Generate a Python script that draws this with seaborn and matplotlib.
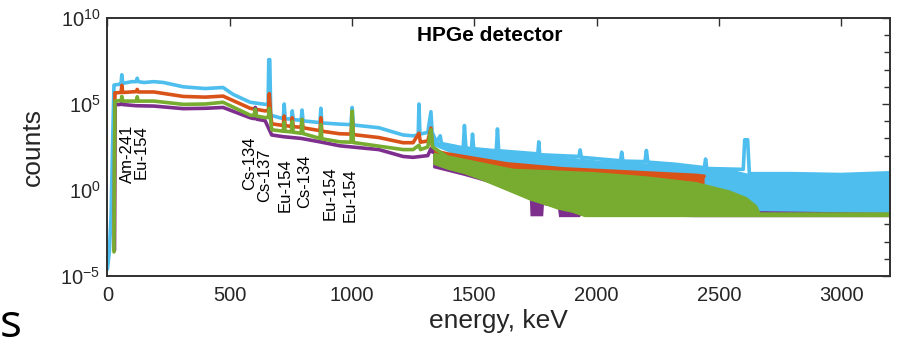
import numpy as np
import seaborn as sns
import matplotlib
matplotlib.use('Agg')
import matplotlib.pyplot as plt
from matplotlib.ticker import FixedLocator, FixedFormatter, NullFormatter

# values: energy in keV, counts as log10 (decades on the log axis)
blue_e = [0, 8, 15, 21, 27, 50, 56, 59, 63, 100, 118, 122, 126, 150, 190, 230, 310, 400, 473,
          514, 584, 645, 657, 660, 664, 668, 700, 719, 723, 727, 752, 756, 760, 792, 796, 800,
          869, 873, 877, 950, 996, 1001, 1006, 1110, 1209, 1250, 1271, 1274, 1278, 1310, 1323,
          1328, 1345, 1361, 1366, 1455, 1460, 1466, 1489, 1493, 1498, 1590, 1595, 1600, 1760,
          1764, 1768, 1928, 1933, 1938, 2098, 2103, 2108, 2198, 2204, 2210, 2320, 2441, 2446,
          2451, 2600, 2606, 2618, 2625, 2800, 3000, 3200]
blue_log = [-4.6, -3.6, -1.5, 2.5, 6.1, 6.15, 6.2, 6.7, 6.2, 6.3, 6.3, 6.5, 6.3, 6.25, 6.3, 6.25,
            6.0, 5.9, 5.96, 5.56, 5.1, 4.98, 5.0, 7.58, 7.58, 4.35, 4.22, 4.15, 5.0, 4.15, 4.12,
            4.6, 4.1, 4.05, 4.65, 4.02, 3.92, 4.75, 3.9, 3.83, 3.8, 4.8, 3.78, 3.62, 3.2, 3.15,
            3.2, 5.0, 3.25, 3.35, 4.55, 3.36, 2.8, 3.15, 2.7, 2.45, 3.75, 2.45, 2.4, 3.25, 2.4,
            2.28, 3.55, 2.28, 2.1, 2.8, 2.05, 1.95, 2.33, 1.9, 1.7, 2.2, 1.68, 1.65, 2.3, 1.62,
            1.5, 1.3, 1.8, 1.25, 1.2, 2.92, 2.92, 0.95, 0.95, 0.9, 1.0]
blue_band_e = [1330, 1500, 1800, 2000, 2300, 2550, 2625, 2800, 3000, 3200]
blue_band_hi = [2.9, 2.4, 2.05, 1.75, 1.5, 1.22, 0.95, 0.95, 0.9, 1.0]
blue_band_lo = [2.6, 1.6, 0.5, -0.2, -0.9, -1.25, -1.28, -1.3, -1.3, -1.3]

orange_e = [28, 31, 56, 59, 63, 118, 122, 126, 190, 310, 400, 473, 584, 645, 658, 662, 667, 672,
            719, 723, 727, 752, 756, 760, 792, 796, 800, 869, 873, 877, 950, 996, 1001, 1006,
            1110, 1209, 1250, 1274, 1280, 1310, 1323, 1330, 1390, 1634, 1866, 2110, 2407, 2440]
orange_log = [-3.5, 5.65, 5.67, 6.08, 5.67, 5.72, 5.85, 5.7, 5.7, 5.44, 5.4, 5.46, 4.75, 4.6,
              4.62, 5.6, 4.5, 3.85, 3.75, 4.3, 3.74, 3.7, 4.2, 3.68, 3.65, 4.1, 3.62, 3.45, 4.2,
              3.42, 3.27, 3.25, 4.2, 3.22, 3.05, 2.75, 2.75, 3.3, 2.78, 2.85, 3.6, 2.3, 2.1,
              1.52, 1.23, 1.06, 0.85, 0.8]
orange_band_e = [1330, 1390, 1634, 1866, 2110, 2407, 2440]
orange_band_hi = [2.3, 2.1, 1.52, 1.23, 1.06, 0.85, 0.8]
orange_band_lo = [1.85, 1.65, 1.07, 0.78, 0.61, 0.4, 0.35]

purple_e = [29, 31, 56, 59, 63, 118, 190, 310, 400, 473, 584, 600, 605, 610, 645, 672, 719, 792,
            869, 950, 1110, 1209, 1250, 1310, 1323, 1330]
purple_log = [-3.5, 4.95, 4.98, 5.1, 4.97, 4.9, 4.88, 4.73, 4.75, 4.8, 4.2, 4.15, 4.8, 4.12,
              4.03, 3.2, 3.1, 3.0, 2.8, 2.57, 2.35, 1.95, 1.9, 2.0, 2.4, 2.2]
purple_band_e = [1330, 1457, 1580, 1700, 1725, 1728, 1780, 1783, 1840, 1845, 1930, 1935, 2400,
                 2660, 3200]
purple_band_hi = [2.1, 1.6, 1.3, 1.0, 1.0, 1.0, 0.95, 0.95, 0.9, 0.9, 0.85, 0.85, 0.2, -1.2, -1.3]
purple_band_lo = [1.3, 0.85, 0.35, -0.3, -0.35, -1.5, -1.5, -0.85, -1.0, -1.55, -1.55, -1.45,
                  -1.55, -1.55, -1.55]

green_e = [27, 29, 31, 56, 59, 63, 118, 122, 126, 190, 310, 400, 473, 584, 600, 605, 610, 645,
           658, 662, 667, 672, 719, 723, 727, 752, 756, 760, 792, 796, 800, 869, 873, 877, 950,
           996, 1001, 1006, 1110, 1209, 1250, 1274, 1280, 1310, 1323, 1330, 1390, 1525, 1661,
           1797, 1988, 2200, 2407, 2542, 2610, 2650, 2665, 3200]
green_log = [-3.6, 1.5, 5.17, 5.2, 5.44, 5.17, 5.17, 5.42, 5.17, 5.17, 4.98, 5.0, 5.1, 4.35,
             4.33, 4.7, 4.3, 4.21, 4.22, 4.75, 4.15, 3.5, 3.42, 3.94, 3.41, 3.38, 3.98, 3.36,
             3.3, 4.1, 3.28, 3.0, 3.8, 2.98, 2.8, 2.78, 4.6, 2.76, 2.55, 2.35, 2.35, 2.6, 2.35,
             2.5, 3.5, 2.5, 1.92, 1.52, 1.13, 1.06, 0.94, 0.7, 0.36, -0.12, -0.5, -0.96, -1.4, -1.4]
green_band_e = [1330, 1390, 1457, 1525, 1593, 1661, 1728, 1797, 1837, 1900, 1950, 1988, 2200,
                2407, 2542, 2610, 2650, 2665, 3200]
green_band_hi = [2.5, 1.92, 1.7, 1.52, 1.35, 1.13, 1.1, 1.06, 1.02, 1.0, 0.96, 0.94, 0.7, 0.36,
                 -0.12, -0.5, -0.96, -1.4, -1.4]
green_band_lo = [1.5, 1.2, 0.95, 0.6, 0.2, -0.2, -0.6, -0.9, -1.1, -1.3, -1.55, -1.55, -1.55,
                 -1.55, -1.55, -1.55, -1.55, -1.55, -1.55]

ann_text = ['Am-241', 'Eu-154', 'Cs-134', 'Cs-137', 'Eu-154', 'Cs-134', 'Eu-154', 'Eu-154']
ann_e = [83, 138, 580, 641, 727, 805, 911, 993]
ann_top_log = [3.79, 3.79, 3.11, 2.43, 1.85, 2.04, 1.36, 1.27]

xticks = [0, 500, 1000, 1500, 2000, 2500, 3000]
yticks = [1e-5, 1e0, 1e5, 1e10]
ytick_labels = [r'$10^{-5}$', r'$10^{0}$', r'$10^{5}$', r'$10^{10}$']

colors = {'blue': '#4DBEEE', 'orange': '#D95319', 'purple': '#7E2F8E', 'green': '#77AC30'}

sns.set_style('white')
plt.rcParams['font.family'] = ['Liberation Sans', 'DejaVu Sans']
plt.rcParams['mathtext.fontset'] = 'custom'
plt.rcParams['mathtext.rm'] = 'Liberation Sans'
plt.rcParams['mathtext.it'] = 'Liberation Sans'

fig = plt.figure(figsize=(9.1, 3.47), dpi=100)
ax = fig.add_axes([0.118, 0.2046, 0.86, 0.7435])
ax.set_yscale('log')

series = [
    ('blue', blue_e, blue_log, blue_band_e, blue_band_hi, blue_band_lo),
    ('orange', orange_e, orange_log, orange_band_e, orange_band_hi, orange_band_lo),
    ('purple', purple_e, purple_log, purple_band_e, purple_band_hi, purple_band_lo),
    ('green', green_e, green_log, green_band_e, green_band_hi, green_band_lo),
]
for name, e, lg, be, bhi, blo in series:
    c = colors[name]
    sns.lineplot(x=e, y=10.0 ** np.array(lg), ax=ax, color=c, lw=2.6,
                 sort=False, estimator=None)
    ax.fill_between(be, 10.0 ** np.array(blo), 10.0 ** np.array(bhi), color=c, lw=0)

for t, e, top in zip(ann_text, ann_e, ann_top_log):
    ax.text(e, 10.0 ** top, t, rotation=90, ha='center', va='top', fontsize=12, color='black')

ax.text(0.395, 0.933, 'HPGe detector', transform=ax.transAxes, ha='left', va='center',
        fontsize=15, fontweight='bold', color='black')

ax.set_xlim(0, 3200)
ax.set_ylim(1e-5, 1e10)
ax.xaxis.set_major_locator(FixedLocator(xticks))
ax.yaxis.set_major_locator(FixedLocator(yticks))
ax.yaxis.set_major_formatter(FixedFormatter(ytick_labels))
ax.yaxis.set_minor_locator(FixedLocator([10.0 ** k for k in range(-5, 11)]))
ax.yaxis.set_minor_formatter(NullFormatter())

frame = '#303030'
for s in ax.spines.values():
    s.set_color(frame)
    s.set_linewidth(1.4)
ax.tick_params(which='both', direction='in', top=True, right=True, color=frame, width=1.0)
ax.tick_params(which='major', length=6)
ax.tick_params(which='minor', length=4)
ax.tick_params(axis='x', pad=7, labelsize=14.5, labelcolor='#262626')
ax.tick_params(axis='y', pad=5, labelsize=14.5, labelcolor='#262626')

ax.set_xlabel('energy, keV', fontsize=19, color='#262626', labelpad=3)
ax.set_ylabel('counts', fontsize=19, color='#262626', labelpad=11)

fig.text(0.0, 0.029, 's', fontsize=33, family=['Open Sans', 'DejaVu Sans'],
         va='baseline', ha='left', color='black')

fig.savefig('out.png', dpi=100)
